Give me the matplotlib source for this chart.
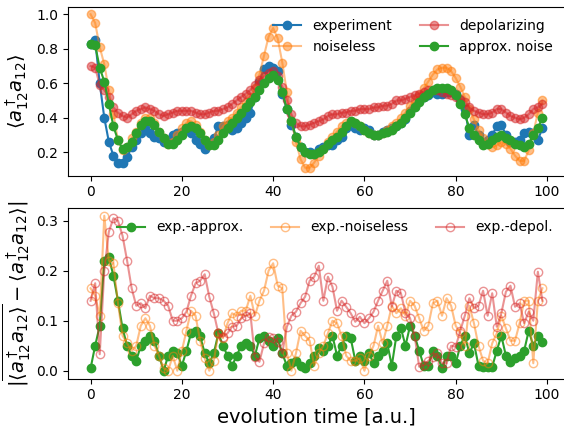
import matplotlib
matplotlib.use("Agg")
import matplotlib.pyplot as plt
import numpy as np

t = np.arange(100)

# top panel: <a12^dag a12>
experiment = [0.83, 0.85, 0.60, 0.40, 0.26, 0.18, 0.14, 0.14, 0.17, 0.23,
              0.27, 0.31, 0.34, 0.31, 0.29, 0.28, 0.26, 0.27, 0.30, 0.31,
              0.32, 0.33, 0.31, 0.27, 0.25, 0.22, 0.25, 0.28, 0.35, 0.35,
              0.36, 0.33, 0.34, 0.37, 0.40, 0.43, 0.52, 0.61, 0.68, 0.70,
              0.69, 0.67, 0.54, 0.45, 0.36, 0.29, 0.23, 0.20, 0.20, 0.19,
              0.22, 0.23, 0.24, 0.24, 0.27, 0.29, 0.34, 0.36, 0.34, 0.33,
              0.34, 0.33, 0.30, 0.30, 0.32, 0.33, 0.34, 0.35, 0.37, 0.39,
              0.44, 0.47, 0.50, 0.52, 0.53, 0.55, 0.54, 0.54, 0.55, 0.55,
              0.54, 0.50, 0.45, 0.30, 0.36, 0.30, 0.26, 0.27, 0.30, 0.35,
              0.36, 0.30, 0.26, 0.26, 0.27, 0.31, 0.32, 0.31, 0.27, 0.34]
noiseless = [1.00, 0.95, 0.81, 0.71, 0.56, 0.42, 0.27, 0.21, 0.23, 0.28,
             0.32, 0.37, 0.40, 0.40, 0.37, 0.32, 0.28, 0.25, 0.26, 0.30,
             0.34, 0.37, 0.38, 0.36, 0.32, 0.27, 0.24, 0.26, 0.30, 0.35,
             0.38, 0.40, 0.43, 0.46, 0.49, 0.52, 0.57, 0.65, 0.76, 0.87,
             0.92, 0.86, 0.72, 0.55, 0.38, 0.26, 0.16, 0.11, 0.11, 0.14,
             0.18, 0.22, 0.26, 0.29, 0.32, 0.35, 0.37, 0.38, 0.37, 0.35,
             0.33, 0.31, 0.30, 0.30, 0.31, 0.33, 0.35, 0.37, 0.40, 0.43,
             0.47, 0.50, 0.53, 0.57, 0.61, 0.65, 0.68, 0.69, 0.69, 0.67,
             0.63, 0.58, 0.52, 0.45, 0.39, 0.33, 0.28, 0.25, 0.23, 0.24,
             0.26, 0.25, 0.22, 0.18, 0.15, 0.15, 0.21, 0.31, 0.43, 0.50]
depolarizing = [0.70, 0.69, 0.59, 0.56, 0.52, 0.46, 0.43, 0.41, 0.40, 0.42,
                0.44, 0.45, 0.46, 0.45, 0.44, 0.42, 0.41, 0.42, 0.43, 0.44,
                0.44, 0.44, 0.44, 0.43, 0.42, 0.42, 0.43, 0.44, 0.44, 0.45,
                0.46, 0.48, 0.50, 0.52, 0.54, 0.56, 0.59, 0.62, 0.64, 0.66,
                0.67, 0.64, 0.58, 0.50, 0.42, 0.37, 0.35, 0.35, 0.36, 0.37,
                0.38, 0.39, 0.41, 0.42, 0.42, 0.43, 0.43, 0.44, 0.44, 0.45,
                0.45, 0.45, 0.46, 0.46, 0.47, 0.47, 0.48, 0.50, 0.50, 0.51,
                0.52, 0.53, 0.54, 0.55, 0.56, 0.56, 0.56, 0.55, 0.54, 0.53,
                0.52, 0.51, 0.49, 0.46, 0.44, 0.43, 0.42, 0.42, 0.43, 0.45,
                0.45, 0.43, 0.41, 0.40, 0.39, 0.40, 0.42, 0.45, 0.46, 0.48]
approx_noise = [0.83, 0.82, 0.69, 0.61, 0.48, 0.35, 0.27, 0.22, 0.23, 0.26,
                0.31, 0.36, 0.38, 0.38, 0.36, 0.32, 0.28, 0.25, 0.25, 0.27,
                0.30, 0.34, 0.35, 0.34, 0.31, 0.27, 0.24, 0.24, 0.27, 0.31,
                0.34, 0.37, 0.40, 0.43, 0.46, 0.49, 0.52, 0.56, 0.60, 0.63,
                0.65, 0.62, 0.55, 0.45, 0.38, 0.29, 0.23, 0.20, 0.19, 0.19,
                0.20, 0.22, 0.25, 0.27, 0.29, 0.32, 0.35, 0.38, 0.37, 0.35,
                0.33, 0.31, 0.30, 0.30, 0.31, 0.32, 0.33, 0.35, 0.37, 0.40,
                0.43, 0.46, 0.49, 0.52, 0.54, 0.56, 0.57, 0.57, 0.57, 0.56,
                0.53, 0.48, 0.42, 0.34, 0.30, 0.27, 0.24, 0.25, 0.27, 0.29,
                0.30, 0.28, 0.27, 0.25, 0.24, 0.23, 0.25, 0.30, 0.34, 0.40]

# bottom panel: absolute deviations
diff_approx = [0.005, 0.05, 0.09, 0.22, 0.227, 0.19, 0.14, 0.085, 0.05, 0.03,
               0.02, 0.05, 0.06, 0.07, 0.06, 0.03, 0.0, 0.03, 0.04, 0.035,
               0.01, 0.04, 0.075, 0.08, 0.07, 0.035, 0.015, 0.035, 0.075, 0.05,
               0.03, 0.01, 0.03, 0.05, 0.055, 0.05, 0.03, 0.065, 0.07, 0.06,
               0.05, 0.065, 0.035, 0.01, 0.015, 0.02, 0.01, 0.005, 0.015, 0.03,
               0.045, 0.04, 0.05, 0.07, 0.03, 0.05, 0.07, 0.065, 0.02, 0.03,
               0.02, 0.035, 0.015, 0.03, 0.04, 0.055, 0.01, 0.07, 0.085, 0.05,
               0.09, 0.07, 0.04, 0.01, 0.01, 0.04, 0.03, 0.005, 0.03, 0.03,
               0.015, 0.05, 0.07, 0.035, 0.055, 0.01, 0.008, 0.008, 0.008, 0.04,
               0.07, 0.03, 0.018, 0.025, 0.03, 0.04, 0.08, 0.05, 0.07, 0.058]
diff_noiseless = [0.165, 0.15, 0.11, 0.31, 0.22, 0.215, 0.135, 0.07, 0.055, 0.04,
                  0.05, 0.09, 0.105, 0.09, 0.05, 0.03, 0.005, 0.0, 0.03, 0.0,
                  0.04, 0.08, 0.12, 0.11, 0.06, 0.025, 0.0, 0.02, 0.075, 0.065,
                  0.095, 0.115, 0.11, 0.12, 0.12, 0.15, 0.11, 0.14, 0.16, 0.20,
                  0.215, 0.17, 0.165, 0.035, 0.0, 0.035, 0.08, 0.07, 0.06, 0.01,
                  0.035, 0.05, 0.075, 0.10, 0.095, 0.07, 0.03, 0.02, 0.02, 0.025,
                  0.0, 0.03, 0.05, 0.09, 0.055, 0.09, 0.13, 0.115, 0.125, 0.11,
                  0.14, 0.13, 0.105, 0.08, 0.09, 0.135, 0.14, 0.11, 0.145, 0.13,
                  0.09, 0.075, 0.05, 0.13, 0.095, 0.05, 0.02, 0.015, 0.055, 0.075,
                  0.11, 0.085, 0.06, 0.06, 0.095, 0.14, 0.14, 0.015, 0.14, 0.165]
diff_depol = [0.14, 0.175, 0.033, 0.20, 0.278, 0.305, 0.30, 0.27, 0.22, 0.165,
              0.13, 0.135, 0.125, 0.15, 0.145, 0.145, 0.14, 0.13, 0.10, 0.10,
              0.105, 0.118, 0.15, 0.175, 0.18, 0.193, 0.148, 0.115, 0.075, 0.068,
              0.075, 0.088, 0.09, 0.105, 0.11, 0.115, 0.028, 0.018, 0.055, 0.068,
              0.065, 0.058, 0.035, 0.088, 0.11, 0.118, 0.135, 0.148, 0.18, 0.188,
              0.21, 0.14, 0.188, 0.168, 0.12, 0.14, 0.128, 0.115, 0.098, 0.108,
              0.095, 0.105, 0.118, 0.14, 0.16, 0.18, 0.128, 0.16, 0.155, 0.115,
              0.105, 0.07, 0.008, 0.011, 0.02, 0.028, 0.035, 0.015, 0.015, 0.05,
              0.048, 0.08, 0.11, 0.145, 0.125, 0.13, 0.16, 0.11, 0.155, 0.088,
              0.115, 0.158, 0.17, 0.128, 0.135, 0.095, 0.118, 0.10, 0.198, 0.14]

fig = plt.figure(figsize=(5.64, 4.26), dpi=100)
ax1 = fig.add_axes([68 / 564, 1 - 175.5 / 426, 497 / 564, 169 / 426])
ax2 = fig.add_axes([68 / 564, 1 - 378.5 / 426, 497 / 564, 170.5 / 426], sharex=ax1)

ax1.plot(t, experiment, 'o-', color='C0', label='experiment')
ax1.plot(t, noiseless, 'o-', color='C1', alpha=0.5, label='noiseless')
ax1.plot(t, depolarizing, 'o-', color='C3', alpha=0.5, label='depolarizing')
ax1.plot(t, approx_noise, 'o-', color='C2', label='approx. noise')
ax1.set_ylim(0.065, 1.045)
ax1.set_ylabel(r'$\langle a_{12}^\dagger a_{12}\rangle$', fontsize=14)
ax1.legend(ncol=2, frameon=False, loc='upper right', fontsize=10)
ax1.tick_params(labelsize=10)

ax2.plot(t, diff_approx, 'o-', color='C2', label='exp.-approx.')
ax2.plot(t, diff_noiseless, 'o-', color='C1', alpha=0.5, mfc='none', label='exp.-noiseless')
ax2.plot(t, diff_depol, 'o-', color='C3', alpha=0.5, mfc='none', label='exp.-depol.')
ax2.set_ylim(-0.0155, 0.3255)
ax2.set_yticks([0.0, 0.1, 0.2, 0.3])
ax2.set_xlabel('evolution time [a.u.]', fontsize=14)
ax2.set_ylabel(r'$|\overline{\langle a_{12}^\dagger a_{12}\rangle} - \langle a_{12}^\dagger a_{12}\rangle|$',
               fontsize=14, labelpad=2)
ax2.legend(ncol=3, frameon=False, loc='upper right', fontsize=10)
ax2.tick_params(labelsize=10)

ax1.set_xlim(-4.95, 103.95)
ax1.set_xticks([0, 20, 40, 60, 80, 100])

fig.savefig('out.png', dpi=100)
